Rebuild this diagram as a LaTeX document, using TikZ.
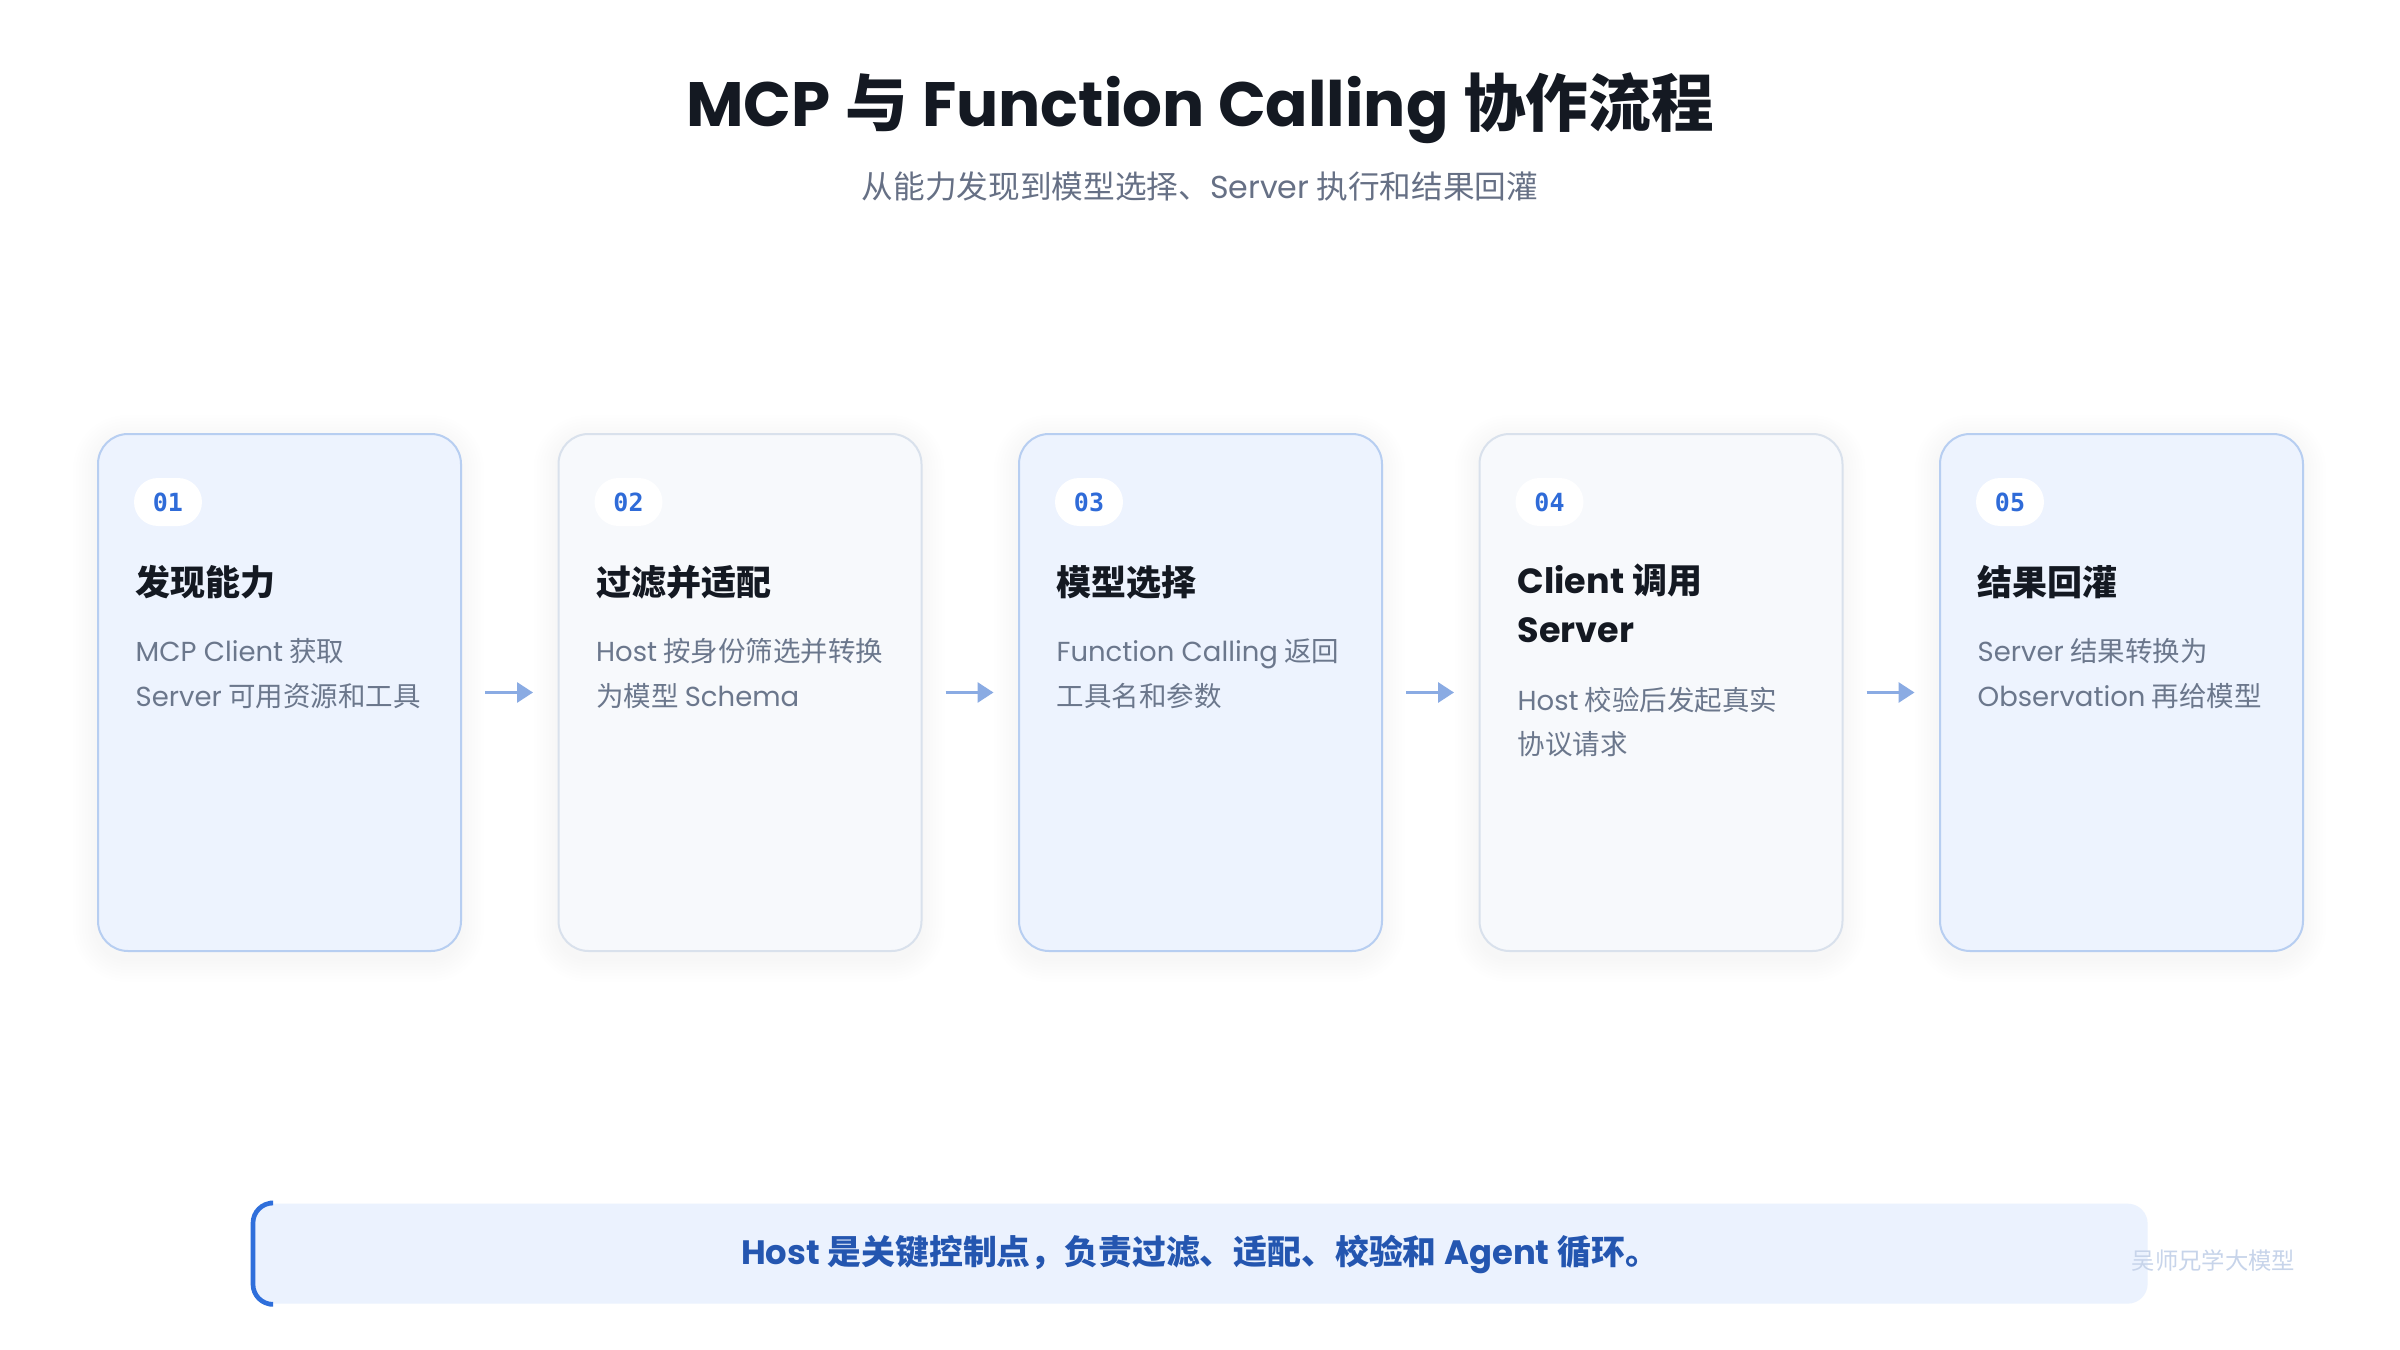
\documentclass[tikz,border=0pt]{standalone}
\usepackage{fontspec}
\setmainfont{Noto Sans CJK SC}
\newfontfamily\lat{Poppins}
\newfontfamily\mono{DejaVu Sans Mono}
\usetikzlibrary{arrows.meta}
\newcommand\en[1]{{\lat #1}}
\definecolor{ink}{HTML}{141922}
\definecolor{subgray}{HTML}{667085}
\definecolor{cardblue}{HTML}{EDF3FE}
\definecolor{cardblueb}{HTML}{B7CEF1}
\definecolor{cardgray}{HTML}{F7F9FC}
\definecolor{cardgrayb}{HTML}{D9E1EC}
\definecolor{badgeblue}{HTML}{2F6BD8}
\definecolor{descgray}{HTML}{6B778C}
\definecolor{arrowblue}{HTML}{8AABE3}
\definecolor{barfill}{HTML}{EBF2FE}
\definecolor{barblue}{HTML}{2F6FDB}
\definecolor{bartext}{HTML}{2456B0}
\definecolor{wm}{HTML}{C7D4EA}
\begin{document}
\begin{tikzpicture}[x=0.3pt,y=-0.3pt,
  card/.style={draw, rounded corners=9pt, line width=0.6pt, minimum width=108.9pt, minimum height=155.1pt, anchor=north west, inner sep=0pt},
  cardA/.style={card, fill=cardblue, draw=cardblueb},
  cardB/.style={card, fill=cardgray, draw=cardgrayb},
  badge/.style={fill=white, rounded corners=7.2pt, minimum width=20.4pt, minimum height=14.4pt, inner sep=0pt, font=\mono\bfseries\fontsize{7.5}{9}\selectfont, text=badgeblue},
  ctitle/.style={anchor=base west, inner sep=0pt, font=\bfseries\fontsize{10.5}{12}\selectfont, text=ink},
  cdesc/.style={anchor=base west, inner sep=0pt, font=\fontsize{8.25}{10}\selectfont, text=descgray},
  arr/.style={draw=arrowblue, line width=0.9pt, -{Triangle[length=4.8pt,width=6pt]}},
  shadowlayer/.style={fill=black, opacity=0.005}
]
\fill[white] (0,0) rectangle (2400,1350);
\useasboundingbox (0,0) rectangle (2400,1350);

% title
\node[anchor=base, inner sep=0pt, font=\bfseries\fontsize{18.8}{23}\selectfont, text=ink] (title) at (1200,127) {\en{MCP} 与 \en{Function Calling} 协作流程};
\node[anchor=base, inner sep=0pt, font=\fontsize{9.5}{11}\selectfont, text=subgray] (subtitle) at (1200,199) {从能力发现到模型选择、\en{Server} 执行和结果回灌};

% shadows
\foreach \L in {97,557.5,1018,1478.5,1939}{
  \foreach \i in {1,...,8}{
    \fill[shadowlayer, rounded corners=9pt+\i*0.9pt] (\L-\i*3,433+6-\i*3) rectangle (\L+363+\i*3,950+8+\i*3);
  }
}

% cards
\node[cardA] (c1) at (97,433) {};
\node[cardB] (c2) at (557.5,433) {};
\node[cardA] (c3) at (1018,433) {};
\node[cardB] (c4) at (1478.5,433) {};
\node[cardA] (c5) at (1939,433) {};

% badges
\node[badge] (b1) at (168,502) {01};
\node[badge] (b2) at (628.5,502) {02};
\node[badge] (b3) at (1089,502) {03};
\node[badge] (b4) at (1549.5,502) {04};
\node[badge] (b5) at (2010,502) {05};

% card 1
\node[ctitle] (t1) at (135,595) {发现能力};
\node[cdesc] (d1a) at (135,661) {\en{MCP Client} 获取};
\node[cdesc] (d1b) at (135,706) {\en{Server} 可用资源和工具};
% card 2
\node[ctitle] (t2) at (595.5,595) {过滤并适配};
\node[cdesc] (d2a) at (595.5,661) {\en{Host} 按身份筛选并转换};
\node[cdesc] (d2b) at (595.5,706) {为模型 \en{Schema}};
% card 3
\node[ctitle] (t3) at (1056,595) {模型选择};
\node[cdesc] (d3a) at (1056,661) {\en{Function Calling} 返回};
\node[cdesc] (d3b) at (1056,706) {工具名和参数};
% card 4
\node[ctitle] (t4a) at (1517,593) {\en{Client} 调用};
\node[ctitle] (t4b) at (1517,642) {\en{Server}};
\node[cdesc] (d4a) at (1517,710) {\en{Host} 校验后发起真实};
\node[cdesc] (d4b) at (1517,754) {协议请求};
% card 5
\node[ctitle] (t5) at (1977,595) {结果回灌};
\node[cdesc] (d5a) at (1977,661) {\en{Server} 结果转换为};
\node[cdesc] (d5b) at (1977,706) {\en{Observation} 再给模型};

% arrows
\draw[arr] ([xshift=6.9pt]c1.east) -- ([xshift=-7.35pt]c2.west);
\draw[arr] ([xshift=6.9pt]c2.east) -- ([xshift=-7.35pt]c3.west);
\draw[arr] ([xshift=6.9pt]c3.east) -- ([xshift=-7.35pt]c4.west);
\draw[arr] ([xshift=6.9pt]c4.east) -- ([xshift=-7.35pt]c5.west);

% bottom bar
\node[fill=barfill, rounded corners=6pt, minimum width=568.2pt, minimum height=30pt, inner sep=0pt, anchor=north west] (bar) at (253,1203) {};
\draw[barblue, line width=1.4pt, rounded corners=6pt] ([xshift=5pt]bar.north west) -- (bar.north west) -- (bar.south west) -- ([xshift=5pt]bar.south west);
\node[anchor=base, inner sep=0pt, font=\bfseries\fontsize{10.15}{12}\selectfont, text=bartext] (bartxt) at (1200,1264) {\en{Host} 是关键控制点，负责过滤、适配、校验和 \en{Agent} 循环。};

% watermark
\node[anchor=base west, inner sep=0pt, font=\fontsize{7}{8}\selectfont, text=wm] (wmark) at (2131,1269) {吴师兄学大模型};
\end{tikzpicture}
\end{document}
